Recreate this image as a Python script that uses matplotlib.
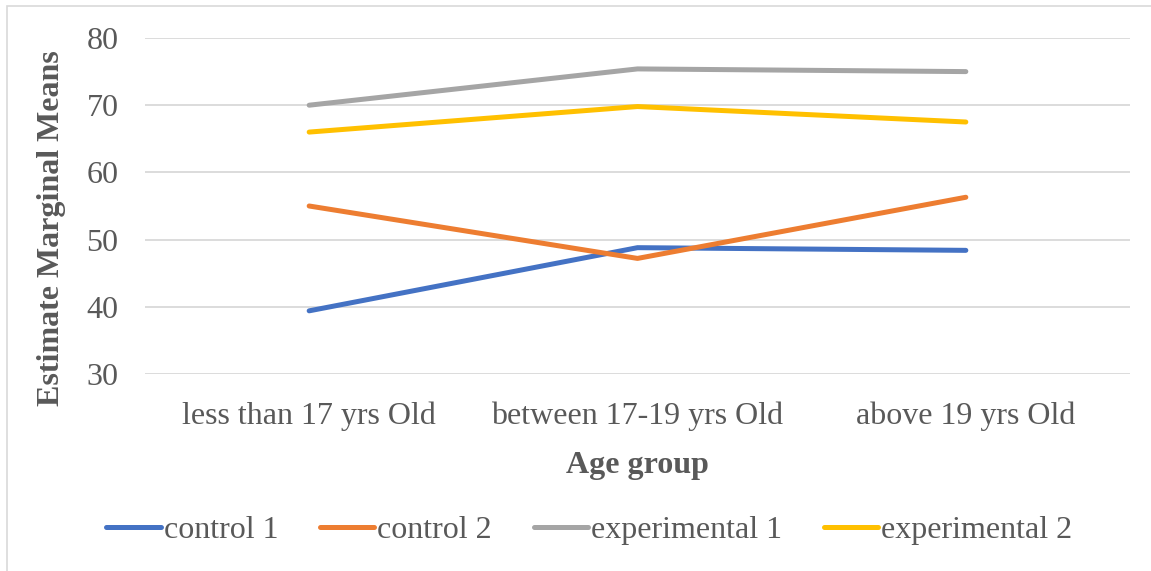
import matplotlib.pyplot as plt
from matplotlib.patches import Rectangle

plt.rcParams['font.family'] = ['Liberation Serif', 'DejaVu Serif']

# Estimated marginal means by age group
age_groups = ["less than 17 yrs Old", "between 17-19 yrs Old", "above 19 yrs Old"]
control_1 = [39.4, 48.8, 48.4]
control_2 = [55.0, 47.2, 56.3]
experimental_1 = [70.0, 75.4, 75.0]
experimental_2 = [66.0, 69.8, 67.5]

series = [
    ("control 1", control_1, "#4472C4"),
    ("control 2", control_2, "#ED7D31"),
    ("experimental 1", experimental_1, "#A5A5A5"),
    ("experimental 2", experimental_2, "#FFC000"),
]

text_color = "#595959"

fig = plt.figure(figsize=(11.51, 5.71), dpi=100)
fig.patches.append(Rectangle((7 / 1151, -0.1), 1.2, 1.1 - 6 / 571,
                             transform=fig.transFigure, fill=False,
                             edgecolor="#D9D9D9", lw=1.2))

ax = fig.add_axes([145 / 1151, 1 - 374 / 571, 985 / 1151, 336 / 571])

x = range(len(age_groups))
for name, vals, col in series:
    ax.plot(x, vals, color=col, lw=3.6, solid_capstyle="round",
            solid_joinstyle="round", label=name, zorder=3)

ax.set_xlim(-0.5, 2.5)
ax.set_ylim(30, 80)
ax.set_yticks(range(30, 81, 10))
ax.set_xticks(list(x))
ax.set_xticklabels(age_groups)
ax.grid(axis="y", color="#D9D9D9", lw=1.3)
ax.set_axisbelow(True)
for s in ax.spines.values():
    s.set_visible(False)
ax.tick_params(length=0, labelsize=23, colors=text_color)
ax.tick_params(axis="x", pad=20)
ax.tick_params(axis="y", pad=19)

ax.set_ylabel("Estimate Marginal Means", fontsize=23, fontweight="bold",
              color=text_color)
ax.yaxis.set_label_coords(-0.080, 0.435)
ax.set_xlabel("Age group", fontsize=23, fontweight="bold",
              color=text_color, labelpad=14)

fig.legend(loc="center", bbox_to_anchor=(0.512, 1 - 530 / 571), ncol=4,
           frameon=False, fontsize=23, labelcolor=text_color,
           handlelength=1.7, handletextpad=0.1, columnspacing=1.3)

fig.savefig("out.png", dpi=100)
